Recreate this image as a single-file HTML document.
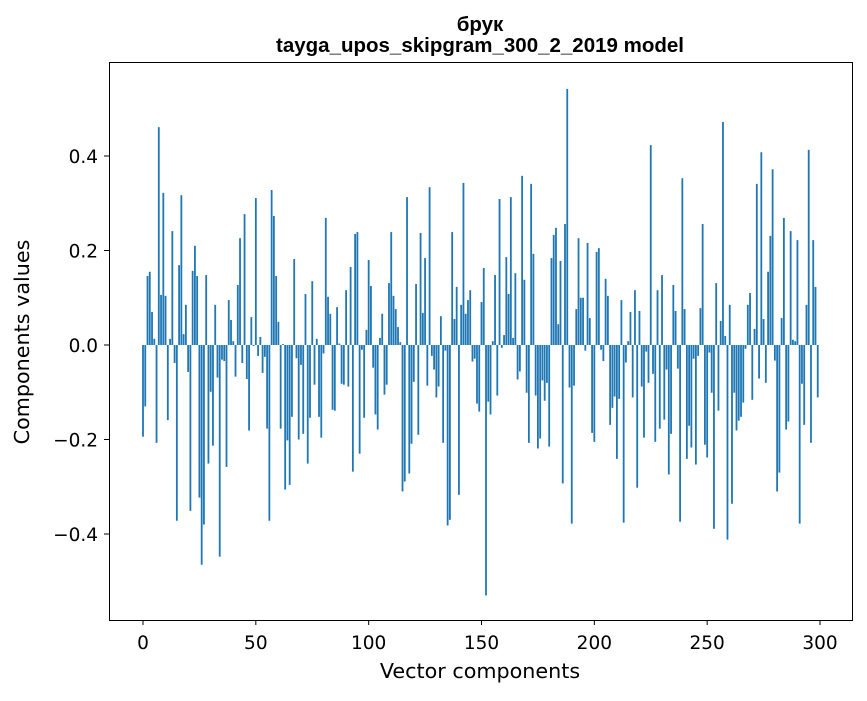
<!DOCTYPE html>
<html><head><meta charset="utf-8"><style>
html,body{margin:0;padding:0;background:#fff;}
svg text{font-family:"DejaVu Sans","Liberation Sans",sans-serif;fill:#000;}
svg text.title{font-family:"Liberation Sans","DejaVu Sans",sans-serif;}
</style></head><body>
<svg id="chart" width="867" height="696" viewBox="0 0 867 696" xmlns="http://www.w3.org/2000/svg">
<rect x="0" y="0" width="867" height="696" fill="#fff"/>
<text class="title" x="480" y="31" text-anchor="middle" font-size="20.5" font-weight="bold">брук</text>
<text class="title" x="480" y="52" text-anchor="middle" font-size="20.5" font-weight="bold">tayga_upos_skipgram_300_2_2019 model</text>
<g id="bars"></g>
<g id="xticks"></g>
<g id="yticks"></g>
<rect x="109.5" y="62.5" width="743" height="558" fill="none" stroke="#000" stroke-width="1"/>
<text x="480" y="678" text-anchor="middle" font-size="20.7">Vector components</text>
<text x="0" y="0" text-anchor="middle" font-size="20.7" transform="translate(29,342) rotate(-90)">Components values</text>
</svg>
<script>
const values = [
-0.194,-0.13,0.146,0.155,0.07,0.013,-0.207,0.461,0.106,0.322,
0.104,-0.159,0.013,0.241,-0.038,-0.372,0.169,0.317,0.023,0.085,
-0.057,-0.351,0.157,0.21,0.146,-0.323,-0.465,-0.38,0.148,-0.251,
-0.099,-0.213,0.085,-0.069,-0.448,-0.031,-0.034,-0.258,0.095,0.053,
0.008,-0.067,0.127,0.226,-0.038,0.277,-0.072,-0.181,0.059,-0.002,
0.311,-0.023,0.017,-0.059,-0.025,-0.177,-0.372,0.328,0.273,0.146,
0.049,-0.177,0.002,-0.306,-0.202,-0.296,-0.152,0.182,-0.028,-0.2,
-0.042,-0.188,0.108,-0.251,-0.154,0.135,-0.084,0.013,-0.152,-0.196,
-0.018,0.269,0.102,0.066,-0.137,-0.139,0.08,0.003,-0.082,-0.084,
0.116,-0.088,0.165,-0.268,0.235,0.239,-0.23,-0.01,-0.154,0.032,
0.18,0.125,-0.048,-0.147,-0.179,0.015,0.066,-0.105,-0.084,0.131,
0.239,0.104,0.076,0.038,0.006,-0.31,-0.289,0.313,-0.272,-0.209,
-0.078,0.129,-0.19,0.237,0.068,0.184,-0.086,0.334,-0.023,-0.052,
-0.111,-0.088,0.061,-0.207,-0.012,-0.382,-0.37,0.239,0.055,0.123,
-0.317,0.085,0.343,0.066,0.095,0.116,-0.035,-0.029,-0.124,-0.141,
0.091,0.163,-0.53,-0.12,-0.147,0.008,0.148,-0.107,0.309,-0.006,
0.021,0.186,0.108,0.313,0.015,0.152,-0.073,-0.056,0.358,0.138,
-0.101,-0.207,0.341,0.193,-0.107,-0.219,-0.198,-0.075,-0.118,-0.08,
-0.215,0.184,0.233,0.248,0.044,0.178,-0.293,0.256,0.542,-0.09,
-0.378,-0.086,0.076,0.226,0.1,0.1,-0.012,0.216,0.057,-0.186,
-0.205,0.197,0.205,-0.01,-0.034,0.14,0.104,-0.169,-0.133,-0.109,
-0.241,-0.114,0.095,-0.376,-0.037,0.008,0.07,-0.111,0.116,-0.302,
0.072,-0.088,-0.196,-0.014,-0.08,0.423,-0.061,-0.205,0.116,-0.177,
0.148,-0.158,-0.052,-0.274,-0.188,0.127,0.072,-0.05,-0.374,0.353,
0.076,-0.241,-0.171,-0.217,-0.029,-0.253,-0.023,0.078,0.256,-0.211,
-0.238,-0.016,-0.101,-0.389,0.131,-0.139,0.051,0.472,0.019,-0.412,
0.085,-0.336,-0.101,-0.181,-0.16,-0.152,-0.122,-0.008,0.085,0.11,
-0.116,0.034,0.341,-0.071,0.408,0.055,-0.08,0.155,0.231,0.372,
-0.033,-0.31,-0.27,0.057,0.269,-0.179,-0.162,0.241,0.011,0.008,
0.222,-0.378,-0.082,-0.169,0.085,0.413,-0.207,0.222,0.123,-0.111
];
const xTickValues = [0,50,100,150,200,250,300];
const xTickLabels = ["0","50","100","150","200","250","300"];
const yTickValues = [-0.4,-0.2,0.0,0.2,0.4];
const yTickLabels = ["\u22120.4","\u22120.2","0.0","0.2","0.4"];

const NS = "http://www.w3.org/2000/svg";
function xScale(v){ return 143 + v * (677/300); }
function yScale(v){ return 345 - v * 472.5; }

const barsG = document.getElementById('bars');
const bw = 0.8 * 677/300;
values.forEach((v,i)=>{
  const r = document.createElementNS(NS,'rect');
  const y0 = yScale(0), y1 = yScale(v);
  r.setAttribute('x', xScale(i) - bw/2);
  r.setAttribute('y', Math.min(y0,y1));
  r.setAttribute('width', bw);
  r.setAttribute('height', Math.abs(y1-y0));
  r.setAttribute('fill', '#1f77b4');
  
  
  barsG.appendChild(r);
});

const xg = document.getElementById('xticks');
xTickValues.forEach((v,i)=>{
  const x = xScale(v);
  const l = document.createElementNS(NS,'line');
  l.setAttribute('x1',x); l.setAttribute('x2',x);
  l.setAttribute('y1',620); l.setAttribute('y2',625);
  l.setAttribute('stroke','#000');
  
  
  xg.appendChild(l);
  const t = document.createElementNS(NS,'text');
  t.setAttribute('x',x); t.setAttribute('y',649);
  t.setAttribute('text-anchor','middle');
  t.setAttribute('font-size','18.5');
  t.textContent = xTickLabels[i];
  
  
  xg.appendChild(t);
});

const yg = document.getElementById('yticks');
yTickValues.forEach((v,i)=>{
  const y = yScale(v);
  const l = document.createElementNS(NS,'line');
  l.setAttribute('x1',104); l.setAttribute('x2',109);
  l.setAttribute('y1',y); l.setAttribute('y2',y);
  l.setAttribute('stroke','#000');
  
  
  yg.appendChild(l);
  const t = document.createElementNS(NS,'text');
  t.setAttribute('x',98); t.setAttribute('y',y+7);
  t.setAttribute('text-anchor','end');
  t.setAttribute('font-size','18.5');
  t.textContent = yTickLabels[i];
  
  
  yg.appendChild(t);
});
</script>
</body></html>
